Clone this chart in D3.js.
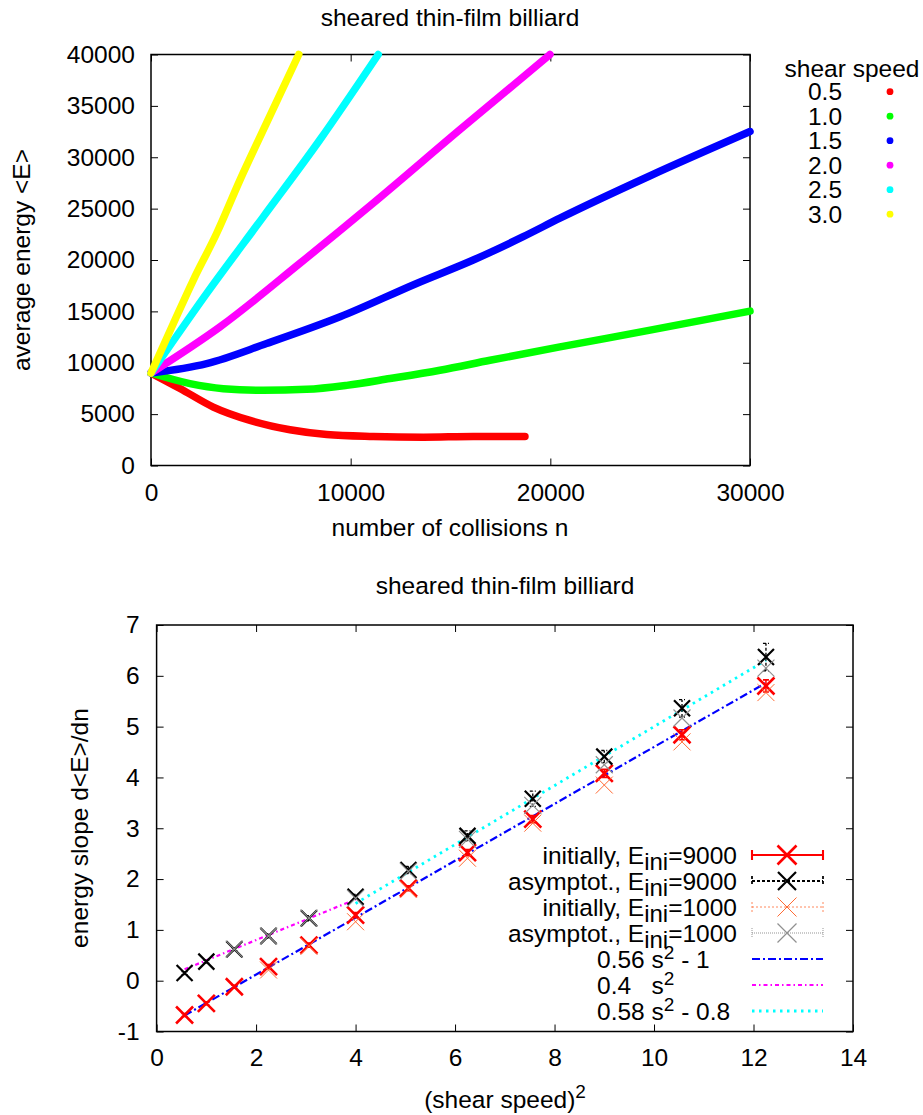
<!DOCTYPE html>
<html><head><meta charset="utf-8">
<script src="https://cdn.jsdelivr.net/npm/d3@7"></script>
<style>
body{margin:0;background:#fff}
svg text{font-family:"Liberation Sans",Arial,sans-serif;fill:#000}
</style></head><body>
<svg id="fig" width="923" height="1115"></svg>
<script>
// ---------- upper panel: <E> versus number of collisions ----------
const speedLabels = ["0.5", "1.0", "1.5", "2.0", "2.5", "3.0"];
const speedColors = ["#ff0000", "#00ff00", "#0000ff", "#ff00ff", "#00ffff", "#ffff00"];

const n05 = [0, 1450, 3120, 4960, 6960, 8800, 11130, 13640, 16140, 18730];
const e05 = [9000, 7500, 5690, 4390, 3480, 3020, 2830, 2760, 2830, 2830];
const n10 = [0, 1950, 3620, 5620, 7790, 9800, 11970, 14470, 16980, 20480, 25000, 30000];
const e10 = [9000, 7970, 7480, 7320, 7410, 7800, 8460, 9270, 10240, 11540, 13170, 15020];
const n15 = [0, 2790, 5790, 9470, 13300, 16140, 18640, 20480, 25000, 30000];
const e15 = [9000, 9920, 11870, 14470, 17720, 20000, 22270, 24070, 28200, 32500];
const n20 = [0, 3456, 7460, 11130, 15470, 19980];
const e20 = [9000, 13490, 19680, 25530, 32680, 40000];
const n25 = [0, 2790, 5630, 8460, 11380];
const e25 = [9000, 16750, 24220, 31700, 40000];
const n30 = [0, 1120, 2120, 3290, 4460, 5790, 7400];
const e30 = [9000, 13820, 18050, 22600, 27800, 33340, 40000];

const collisionsN = [n05, n10, n15, n20, n25, n30];
const energyE = [e05, e10, e15, e20, e25, e30];

const collisionTicks = [0, 10000, 20000, 30000];
const energyTicks = [0, 5000, 10000, 15000, 20000, 25000, 30000, 35000, 40000];

// ---------- lower panel: energy slope versus (shear speed)^2 ----------
const speedSquared = [0.5625, 1, 1.5625, 2.25, 3.0625, 4, 5.0625, 6.25, 7.5625, 9, 10.5625, 12.25];
const slopeInit9000 = [-0.675, -0.445, -0.12, 0.276, 0.70, 1.29, 1.82, 2.52, 3.18, 4.08, 4.84, 5.80];
const errInit9000   = [0.03, 0.03, 0.03, 0.04, 0.04, 0.05, 0.05, 0.06, 0.07, 0.08, 0.1, 0.12];
const slopeAsym9000 = [0.15, 0.375, 0.62, 0.88, 1.23, 1.65, 2.18, 2.85, 3.58, 4.41, 5.36, 6.37];
const errAsym9000   = [0.03, 0.03, 0.03, 0.04, 0.05, 0.05, 0.07, 0.1, 0.15, 0.12, 0.17, 0.27];
const slopeInit1000 = [null, null, null, 0.21, 0.68, 1.16, 1.80, 2.41, 3.10, 3.85, 4.70, 5.67];
const slopeAsym1000 = [null, null, 0.62, 0.88, 1.23, 1.62, 2.15, 2.78, 3.45, 4.25, 5.17, 6.15];

// fitted lines: a*s^2 + b over a range of s^2
const fitLines = [
  {a: 0.56, b: -1,   from: 0.5625, to: 12.25, color: "#0000ff", dash: "8,3,2,3", width: 2.2},
  {a: 0.4,  b: 0,    from: 0.5625, to: 4,     color: "#ff00ff", dash: "4,3,1.5,3", width: 2.2},
  {a: 0.58, b: -0.8, from: 4,      to: 12.25, color: "#00ffff", dash: "2.5,4.5", width: 2.8}
];

const slopeXTicks = [0, 2, 4, 6, 8, 10, 12, 14];
const slopeYTicks = [-1, 0, 1, 2, 3, 4, 5, 6, 7];

const FS = 24.5;
const svg = d3.select("#fig");

// frame with inward ticks on all four sides, labels on bottom and left
function framedAxes(x, y, xt, yt, padX, padY) {
  const [x0, x1] = x.range();
  const [y0, y1] = y.range();
  const g = svg.append("g");
  const style = a => {
    a.attr("font-family", null).attr("font-size", null);
    a.select(".domain").remove();
    a.selectAll("line").attr("stroke", "#000").attr("stroke-width", 1);
    a.selectAll("text").attr("font-size", FS).attr("fill", "#000");
  };
  const fmt = d => d3.format("d")(d).replace("−", "-");
  g.append("g").attr("transform", `translate(0,${y0})`)
    .call(d3.axisBottom(x).tickValues(xt).tickSize(-7).tickSizeOuter(0).tickPadding(padX).tickFormat(fmt)).call(style);
  g.append("g").attr("transform", `translate(0,${y1})`)
    .call(d3.axisTop(x).tickValues(xt).tickSize(-7).tickSizeOuter(0).tickFormat("")).call(style);
  g.append("g").attr("transform", `translate(${x0},0)`)
    .call(d3.axisLeft(y).tickValues(yt).tickSize(-7).tickSizeOuter(0).tickPadding(padY).tickFormat(fmt)).call(style);
  g.append("g").attr("transform", `translate(${x1},0)`)
    .call(d3.axisRight(y).tickValues(yt).tickSize(-7).tickSizeOuter(0).tickFormat("")).call(style);
  g.append("rect").attr("x", x0).attr("y", y1).attr("width", x1 - x0).attr("height", y0 - y1)
    .attr("fill", "none").attr("stroke", "#000").attr("stroke-width", 1.5);
  return g;
}

// ---------- upper panel ----------
const xTop = d3.scaleLinear().domain([0, 30000]).range([151, 750]);
const yTop = d3.scaleLinear().domain([0, 40000]).range([465.5, 54.5]);

svg.append("text").attr("x", 450).attr("y", 26).attr("text-anchor", "middle").attr("font-size", FS)
  .text("sheared thin-film billiard");

framedAxes(xTop, yTop, collisionTicks, energyTicks, 18, 16);

const lineTop = d3.line().x(d => xTop(d[0])).y(d => yTop(d[1])).curve(d3.curveMonotoneX);
collisionsN.forEach((ns, k) => {
  const pts = ns.map((n, i) => [n, energyE[k][i]]);
  svg.append("path").attr("d", lineTop(pts)).attr("fill", "none")
    .attr("stroke", speedColors[k]).attr("stroke-width", 7.5)
    .attr("stroke-linecap", "round").attr("stroke-linejoin", "round");
});

svg.append("text").attr("x", 450).attr("y", 536).attr("text-anchor", "middle").attr("font-size", FS)
  .text("number of collisions n");
svg.append("text").attr("transform", "translate(30,260) rotate(-90)").attr("text-anchor", "middle")
  .attr("font-size", FS).text("average energy <E>");

// legend
svg.append("text").attr("x", 852).attr("y", 76.5).attr("text-anchor", "middle").attr("font-size", FS)
  .text("shear speed");
speedLabels.forEach((s, i) => {
  const cy = 91.7 + i * 24.5;
  svg.append("text").attr("x", 825).attr("y", cy + 8.5).attr("text-anchor", "middle").attr("font-size", FS).text(s);
  svg.append("circle").attr("cx", 890).attr("cy", cy).attr("r", 3.4).attr("fill", speedColors[i]);
});

// ---------- lower panel ----------
const xBot = d3.scaleLinear().domain([0, 14]).range([156.6, 853]);
const yBot = d3.scaleLinear().domain([-1, 7]).range([1031.5, 625]);

svg.append("text").attr("x", 505).attr("y", 594).attr("text-anchor", "middle").attr("font-size", FS)
  .text("sheared thin-film billiard");

framedAxes(xBot, yBot, slopeXTicks, slopeYTicks, 17.5, 17);

// fit lines
fitLines.forEach(f => {
  const pts = [[f.from, f.a * f.from + f.b], [f.to, f.a * f.to + f.b]];
  svg.append("path").attr("d", d3.line().x(d => xBot(d[0])).y(d => yBot(d[1]))(pts))
    .attr("fill", "none").attr("stroke", f.color).attr("stroke-width", f.width).attr("stroke-dasharray", f.dash);
});

function cross(g, cx, cy, h, color, w) {
  g.append("path").attr("d", `M${cx - h},${cy - h}L${cx + h},${cy + h}M${cx - h},${cy + h}L${cx + h},${cy - h}`)
    .attr("stroke", color).attr("stroke-width", w).attr("fill", "none");
}
function errBar(g, cx, y0, y1, color, w, dash) {
  g.append("path").attr("d", `M${cx},${y0}L${cx},${y1}M${cx - 3},${y0}L${cx + 3},${y0}M${cx - 3},${y1}L${cx + 3},${y1}`)
    .attr("stroke", color).attr("stroke-width", w).attr("fill", "none").attr("stroke-dasharray", dash || null);
}

const series = [
  {vals: slopeInit9000, err: errInit9000, color: "#ff0000", w: 2.6, h: 8.5, dash: null},
  {vals: slopeAsym9000, err: errAsym9000, color: "#000000", w: 2.2, h: 8, dash: "3,2"},
  {vals: slopeInit1000, err: null, color: "#ff6a33", w: 1, h: 8.5, dash: "2,2"},
  {vals: slopeAsym1000, err: null, color: "#909090", w: 1.2, h: 8.5, dash: "1,1"}
];
const marks = svg.append("g");
series.forEach(s => {
  s.vals.forEach((v, i) => {
    if (v === null) return;
    const cx = xBot(speedSquared[i]);
    if (s.err) errBar(marks, cx, yBot(v - s.err[i]), yBot(v + s.err[i]), s.color, s.w * 0.6, s.dash);
    cross(marks, cx, yBot(v), s.h, s.color, s.w);
  });
});

// axis titles
svg.append("text").attr("transform", "translate(88,828) rotate(-90)").attr("text-anchor", "middle")
  .attr("font-size", FS).text("energy slope d<E>/dn");
const xt = svg.append("text").attr("x", 505).attr("y", 1108).attr("text-anchor", "middle").attr("font-size", FS);
xt.append("tspan").text("(shear speed)");
xt.append("tspan").attr("dy", -10).attr("font-size", 19).text("2");

// legend of lower panel: data rows are right-justified, fit rows start at a common left edge
const legendRows = [
  {parts: [["initially, E", 0], ["ini", 1], ["=9000", 0]], kind: "err", s: series[0]},
  {parts: [["asymptot., E", 0], ["ini", 1], ["=9000", 0]], kind: "err", s: series[1]},
  {parts: [["initially, E", 0], ["ini", 1], ["=1000", 0]], kind: "err", s: series[2]},
  {parts: [["asymptot., E", 0], ["ini", 1], ["=1000", 0]], kind: "err", s: series[3]},
  {parts: [["0.56 s", 0], ["2", -1], [" - 1", 0]], kind: "fit", f: fitLines[0]},
  {parts: [["0.4   s", 0], ["2", -1]], kind: "fit", f: fitLines[1]},
  {parts: [["0.58 s", 0], ["2", -1], [" - 0.8", 0]], kind: "fit", f: fitLines[2]}
];
const leg = svg.append("g");
legendRows.forEach((r, i) => {
  const cy = 855 + i * 26;
  const isFit = r.kind === "fit";
  const t = leg.append("text").attr("x", isFit ? 597 : 737).attr("y", cy + 8.5)
    .attr("text-anchor", isFit ? "start" : "end").attr("font-size", FS)
    .attr("xml:space", "preserve").style("white-space", "pre");
  let shift = 0;
  r.parts.forEach(([txt, m]) => {
    const target = m === 1 ? 6 : m === -1 ? -9 : 0;
    const ts = t.append("tspan").attr("dy", target - shift).text(txt);
    if (m === 1) ts.attr("font-size", 24);
    if (m === -1) ts.attr("font-size", 19);
    shift = target;
  });
  if (!isFit) {
    const s = r.s;
    leg.append("path").attr("d", `M752,${cy}L823,${cy}M752,${cy - 5}L752,${cy + 5}M823,${cy - 5}L823,${cy + 5}`)
      .attr("stroke", s.color).attr("stroke-width", s.w * 0.8).attr("fill", "none").attr("stroke-dasharray", s.dash);
    cross(leg, 787, cy, s.h + 1, s.color, s.w);
  } else {
    const f = r.f;
    leg.append("path").attr("d", `M752,${cy}L823,${cy}`).attr("stroke", f.color).attr("stroke-width", f.width)
      .attr("stroke-dasharray", f.dash).attr("fill", "none");
  }
});
</script>
</body></html>
